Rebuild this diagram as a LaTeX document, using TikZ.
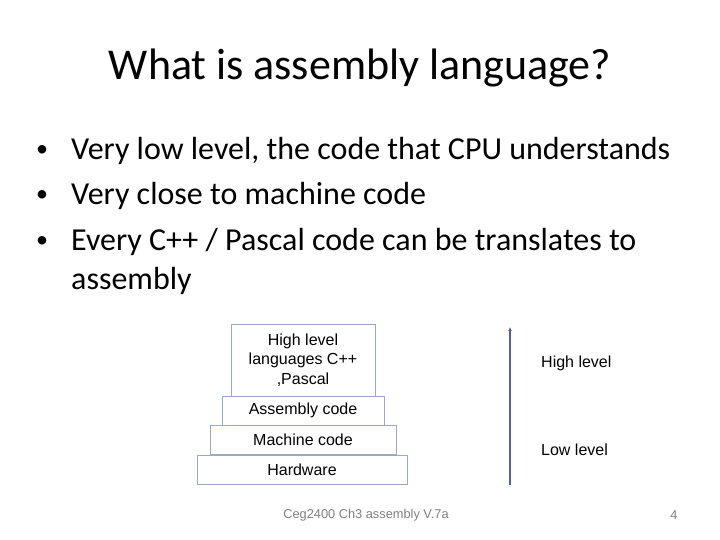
\documentclass[tikz,border=0pt]{standalone}
\usepackage{fontspec}
\usetikzlibrary{arrows.meta}
\setmainfont{Carlito}
\newfontfamily\arialf{Liberation Sans}
\begin{document}
\begin{tikzpicture}[x=1pt,y=-1pt,
  layer/.style={draw=boxc,line width=0.9pt,inner sep=0pt,font=\arialf\fontsize{16}{19.5}\selectfont,align=center},
  lbl/.style={font=\arialf\fontsize{16}{19}\selectfont,anchor=west,inner sep=0pt},
  bul/.style={font=\fontsize{32}{38}\selectfont,anchor=west,inner sep=0pt},
  dot/.style={font=\fontsize{24}{28}\selectfont,anchor=west,inner sep=0pt}]
\definecolor{boxc}{HTML}{9AAAC4}
\definecolor{arrc}{HTML}{50678A}
\useasboundingbox (0,0) rectangle (720,540);
\node[font=\fontsize{44}{50}\selectfont] (title) at (360,68) {What is assembly language?};
\node[dot] (d1) at (36,151) {•};
\node[dot] (d2) at (36,196) {•};
\node[dot] (d3) at (36,242) {•};
\node[bul] (b1) at (71,151) {Very low level, the code that CPU understands};
\node[bul] (b2) at (71,196) {Very close to machine code};
\node[bul] (b3) at (71,242) {Every C++ / Pascal code can be translates to};
\node[bul] (b4) at (71,281) {assembly};
\node[layer,minimum width=144pt,minimum height=72pt] (hl) at (303,360) {High level\\languages C++\\,Pascal};
\node[layer,minimum width=162pt,minimum height=29pt] (asm) at (303,410.5) {Assembly code};
\node[layer,minimum width=186pt,minimum height=29pt] (mc) at (303,439.5) {Machine code};
\node[layer,minimum width=210pt,minimum height=29pt] (hw) at (302,469.5) {Hardware};
\coordinate (abot) at (510,485);
\coordinate (atop) at (510,327);
\draw[arrc,line width=1.8pt,-{Latex[length=4pt,width=4pt]}] (abot) -- (atop);
\node[lbl] (high) at (541,363) {High level};
\node[lbl] (low) at (541,450) {Low level};
\node[font=\arialf\fontsize{12.8}{15}\selectfont,text=gray] (foot) at (366,515) {Ceg2400 Ch3 assembly V.7a};
\node[font=\arialf\fontsize{12.8}{15}\selectfont,text=gray] (num) at (674,515) {4};
\end{tikzpicture}
\end{document}
